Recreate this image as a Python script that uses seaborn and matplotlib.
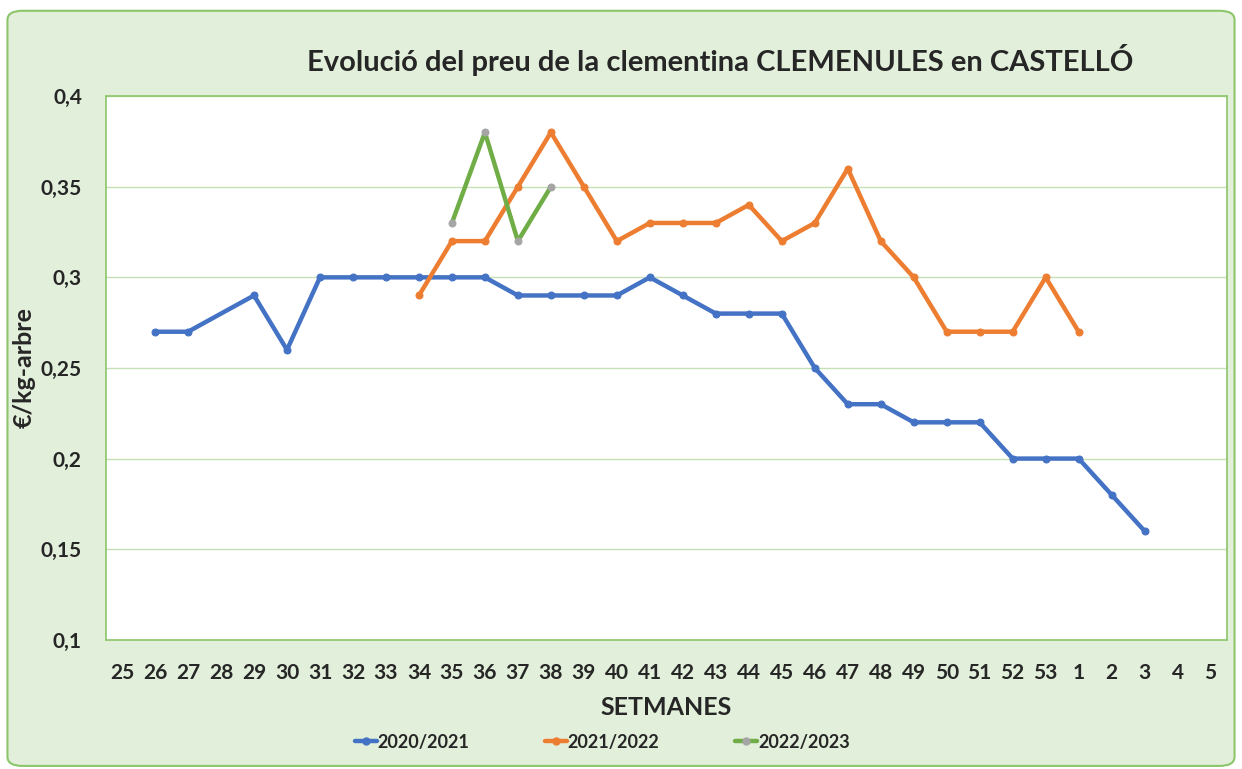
import numpy as np
import pandas as pd
import matplotlib.pyplot as plt
from matplotlib.patches import FancyBboxPatch
from matplotlib.lines import Line2D
from matplotlib.ticker import FuncFormatter
import seaborn as sns

# setmanes (categories on the x axis)
weeks = [str(w) for w in list(range(25, 54)) + [1, 2, 3, 4, 5]]

# 2020/2021 (None = no data for that week)
s2020 = [None, 0.27, 0.27, None, 0.29, 0.26, 0.30, 0.30, 0.30, 0.30, 0.30, 0.30,
         0.29, 0.29, 0.29, 0.29, 0.30, 0.29, 0.28, 0.28, 0.28, 0.25, 0.23, 0.23,
         0.22, 0.22, 0.22, 0.20, 0.20, 0.20, 0.18, 0.16, None, None]
# 2021/2022
s2021 = [None] * 9 + [0.29, 0.32, 0.32, 0.35, 0.38, 0.35, 0.32, 0.33, 0.33, 0.33,
                      0.34, 0.32, 0.33, 0.36, 0.32, 0.30, 0.27, 0.27, 0.27, 0.30,
                      0.27, None, None, None, None]
# 2022/2023
s2022 = [None] * 10 + [0.33, 0.38, 0.32, 0.35] + [None] * 20

series = [("2020/2021", s2020, "#4472C4", "#4472C4"),
          ("2021/2022", s2021, "#ED7D31", "#ED7D31"),
          ("2022/2023", s2022, "#70AD47", "#A5A5A5")]

sns.set_theme(style="white")
plt.rcParams["font.family"] = ["Lato", "DejaVu Sans"]

fig = plt.figure(figsize=(12.42, 7.69), dpi=100)
fig.patch.set_facecolor("white")
bg = FancyBboxPatch((0.006, 0.004), 0.988, 0.982, boxstyle="round,pad=0,rounding_size=0.012",
                    transform=fig.transFigure, facecolor="#E2EFDA", edgecolor="#8CC56A",
                    linewidth=1.5, zorder=-10)
fig.patches.append(bg)

ax = fig.add_axes([0.085, 0.168, 0.903, 0.707])
ax.set_facecolor("white")

for name, vals, color, mcolor in series:
    df = pd.DataFrame({"x": np.arange(len(weeks)), "y": vals}).dropna()
    sns.lineplot(data=df, x="x", y="y", ax=ax, color=color, linewidth=3.2,
                 marker="o", markersize=5, markerfacecolor=mcolor,
                 markeredgecolor=mcolor, zorder=3)

ax.set_xlim(-0.5, len(weeks) - 0.5)
ax.set_ylim(0.1, 0.4)
ax.set_xticks(np.arange(len(weeks)))
ax.set_xticklabels(weeks)
ax.set_yticks(np.arange(0.1, 0.401, 0.05))
ax.yaxis.set_major_formatter(FuncFormatter(lambda v, _: f"{v:g}".replace(".", ",")))
ax.grid(True, axis="y", color="#C5E0B4", linewidth=1)
ax.tick_params(axis="x", length=0, labelsize=15, pad=17)
ax.tick_params(axis="y", length=0, labelsize=15, pad=17)
for lbl in ax.get_xticklabels() + ax.get_yticklabels():
    lbl.set_fontweight("bold")
for sp in ax.spines.values():
    sp.set_color("#8CC56A")
    sp.set_linewidth(1.2)

ax.set_xlabel("SETMANES", fontsize=18, fontweight="bold", labelpad=9)
ax.set_ylabel("€/kg-arbre", fontsize=18, fontweight="bold", labelpad=4)

fig.text(0.58, 0.922, "Evolució del preu de la clementina CLEMENULES en CASTELLÓ",
         ha="center", va="center", fontsize=21, fontweight="bold")

handles = [Line2D([0], [0], color=c, linewidth=3.2, marker="o", markersize=5,
                  markerfacecolor=m, markeredgecolor=m) for _, _, c, m in series]
fig.legend(handles, [s[0] for s in series], loc="center", bbox_to_anchor=(0.485, 0.035),
           ncol=3, frameon=False, columnspacing=4.2, handlelength=1.2, handletextpad=0.05,
           prop={"weight": "bold", "size": 13})

fig.savefig("out.png", dpi=100)
